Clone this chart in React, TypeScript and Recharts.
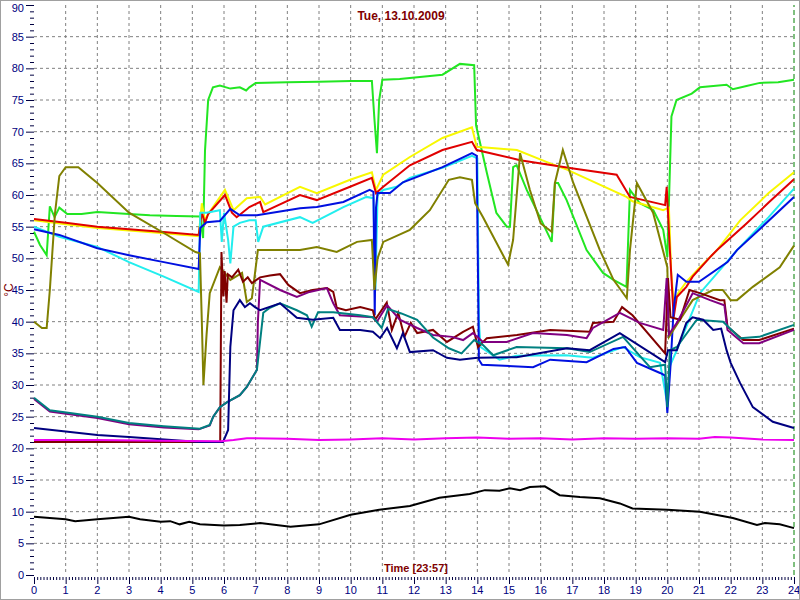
import React from 'react';
import { LineChart, Line, XAxis, YAxis, CartesianGrid, ReferenceLine } from 'recharts';

type Pt = [number, number];

// [hour, °C] pairs
const limeSeries: Pt[] = [
  [0, 54.2], [0.19, 52.1], [0.4, 50.5], [0.5, 58.2], [0.65, 56.5], [0.8, 58], [1.05, 57], [1.5, 57], [2, 57.3],
  [3, 57], [3.66, 56.8], [4.5, 56.7], [5.24, 56.6], [5.34, 53.2], [5.4, 67], [5.5, 75], [5.65, 77], [5.87, 77.3],
  [6.2, 76.8], [6.5, 77], [6.7, 76.5], [6.8, 77], [7.0, 77.7], [8, 77.8], [9, 77.9], [10, 78], [10.67, 78],
  [10.75, 72], [10.83, 66.6], [10.9, 75], [11, 78.2], [11.55, 78.3], [12.9, 79], [13.45, 80.7], [13.9, 80.5],
  [13.96, 71], [14.3, 63.5], [14.6, 57.2], [14.93, 55], [15.03, 55], [15.13, 64.4], [15.24, 64.7], [15.56, 60.8],
  [16.35, 52.6], [16.45, 61.9], [16.55, 61.9], [16.82, 59.2], [17.45, 51.3], [17.97, 47.7], [18.3, 46.6],
  [18.71, 45.5], [18.82, 60.8], [19.13, 58.7], [19.56, 57.6], [19.87, 54.5], [20.0, 50.2], [20.13, 72.4],
  [20.29, 75], [20.77, 76], [21.03, 77], [21.87, 77.4], [22.07, 76.7], [22.5, 77.2], [22.92, 77.7], [23.5, 77.8], [24, 78.2],
];

const yellowSeries: Pt[] = [
  [0, 56], [1, 55.4], [2, 54.8], [3, 54.4], [4, 54], [5.2, 53.5], [5.3, 58.7], [5.4, 56], [5.5, 57], [6.03, 60.8],
  [6.3, 57.6], [6.72, 59.5], [7.14, 59.7], [7.3, 58.5], [8.4, 61.3], [8.93, 60.3], [9.98, 62.4], [10.67, 63.6],
  [10.8, 60.8], [11.03, 63.2], [11.87, 66], [12.9, 69], [13.83, 70.7], [13.98, 67.6], [15.25, 67.1], [16.3, 65],
  [16.83, 64], [18.71, 59.7], [18.9, 59], [19.87, 57.6], [20.05, 58], [20.12, 48], [20.2, 43], [20.34, 44.5],
  [20.6, 46.3], [21.03, 48.6], [21.57, 51.3], [22.3, 56], [23.2, 60.3], [24, 63.6],
];

const redSeries: Pt[] = [
  [0, 56.2], [1, 55.6], [2, 55], [3, 54.6], [4, 54.2], [5.2, 53.7], [5.3, 57.2], [5.4, 55.6], [5.5, 57], [6.03, 60],
  [6.25, 57.2], [6.4, 56.5], [6.8, 58.1], [7.14, 58.9], [7.24, 57.3], [8.4, 60], [8.93, 59.2], [9.98, 61.3],
  [10.67, 62.7], [10.8, 60.3], [11.03, 61.3], [11.87, 64.7], [12.9, 67.1], [13.83, 68.4], [13.98, 67.1],
  [15.35, 65.5], [17.03, 64.2], [18.4, 63.2], [18.82, 59.7], [19.93, 58.4], [19.98, 61.3], [20.08, 51.3],
  [20.2, 40.7], [20.3, 43.9], [20.6, 45.5], [20.8, 47.1], [21.35, 50.2], [21.57, 51.3], [22.5, 55.5], [23.2, 58.8], [24, 62.5],
];

const cyanSeries: Pt[] = [
  [0, 55], [0.8, 53.4], [2, 51.8], [3, 49.4], [4.1, 47.1], [5.2, 44.7], [5.25, 57.2], [5.45, 57.2], [5.87, 57.6],
  [5.93, 52.6], [6.0, 57.2], [6.13, 52.9], [6.2, 49.2], [6.3, 55], [6.5, 55.6], [6.8, 56], [7.0, 56], [7.08, 52.6],
  [7.24, 55], [8.4, 56.5], [8.8, 55.6], [9.77, 58.1], [10.5, 59.7], [10.72, 59.5], [10.78, 45], [10.85, 60],
  [11.03, 60.8], [11.45, 61.3], [11.87, 62.7], [12.9, 64.3], [13.83, 66.2], [14.0, 65.8], [14.05, 40], [14.1, 36],
  [14.7, 34], [15.24, 34.6], [16.8, 34.7], [17.65, 34.3], [18.6, 36], [19.13, 34.4], [19.77, 33.5], [20.0, 27],
  [20.08, 33], [20.3, 35.5], [21.03, 44.5], [22.2, 51.3], [23.2, 56.5], [24, 61],
];

const blueSeries: Pt[] = [
  [0, 54.6], [0.8, 53.7], [2, 51.6], [3, 50.5], [4.1, 49.4], [5.2, 48.3], [5.25, 54.8], [5.45, 55.7], [5.87, 55.9],
  [6.2, 57.8], [6.5, 56.8], [7.04, 56.8], [8.4, 57.9], [8.93, 58.1], [9.77, 58.9], [10.6, 60.8], [10.72, 60.5],
  [10.76, 41], [10.8, 58], [10.85, 60.3], [11.24, 60.3], [11.65, 62], [12.9, 64.4], [13.83, 66.6], [13.98, 66.2],
  [14.05, 34], [14.15, 33.2], [15.76, 32.8], [16.3, 34], [17.45, 33.6], [18.3, 35.7], [18.67, 36], [19.04, 33.5],
  [19.77, 31.9], [19.93, 31.5], [20.0, 25.6], [20.1, 33], [20.2, 42], [20.33, 47.4], [20.6, 46.3], [21.0, 46.3],
  [21.9, 49.4], [22.2, 51.3], [23, 55], [24, 59.7],
];

const oliveSeries: Pt[] = [
  [0, 40], [0.25, 39], [0.4, 39], [0.5, 45], [0.66, 57], [0.8, 63], [1.0, 64.4], [1.4, 64.4], [2, 61.9], [3, 57.2],
  [4.1, 54], [5.1, 51], [5.24, 50.8], [5.3, 40], [5.35, 30], [5.45, 38], [5.55, 44.5], [5.87, 48.6], [6.2, 46.6],
  [6.57, 47.7], [6.72, 43.1], [6.88, 43.7], [7.07, 51.3], [7.77, 51.3], [8.4, 51.3], [8.93, 51.8], [9.56, 51],
  [10.2, 52.6], [10.67, 52.9], [10.75, 45], [10.85, 50], [11.03, 52.6], [11.87, 54.5], [12.5, 57.6], [13.1, 62.4],
  [13.45, 62.8], [13.83, 62.4], [13.93, 58.7], [14.18, 56.5], [14.97, 49], [15.13, 52.9], [15.35, 66.6],
  [15.66, 60.8], [16.0, 55.5], [16.35, 54.2], [16.45, 61.9], [16.7, 67.1], [17.03, 61.9], [17.87, 51.3],
  [18.3, 46.6], [18.72, 43.7], [18.82, 51.3], [19.04, 61.9], [19.55, 57.2], [20.0, 48.6], [20.05, 37.6],
  [20.4, 40.3], [20.8, 43.4], [21.44, 45], [21.75, 45], [22, 43.4], [22.2, 43.4], [22.7, 45.5], [23.55, 48.6], [24, 52],
];

const maroonSeries: Pt[] = [
  [0, 21], [5.88, 21], [5.92, 51], [5.98, 44], [6.02, 48], [6.08, 43], [6.12, 47.5], [6.25, 47], [6.45, 48.2],
  [6.6, 46.3], [6.75, 47], [6.88, 46.1], [7.14, 47], [7.45, 47.3], [7.77, 47.5], [8.03, 45.8], [8.4, 44.5],
  [8.8, 45], [9.25, 45.3], [9.45, 44.7], [9.56, 42.2], [9.85, 41.8], [10.3, 42.3], [10.7, 41.8], [10.77, 40.3],
  [11.14, 43], [11.3, 38.7], [11.5, 41.4], [11.7, 37.6], [11.9, 39.8], [12.1, 38.2], [12.6, 38.7], [13.04, 36.8],
  [13.55, 38.4], [13.86, 39.2], [14.02, 36], [14.3, 37.4], [15.25, 37.9], [16.3, 38.7], [17.55, 38.4],
  [17.65, 39.8], [18.3, 40], [18.57, 42.3], [18.9, 41], [19.93, 35], [20.02, 46.9], [20.1, 40.7], [20.4, 40.3],
  [20.7, 45], [21.03, 44.5], [21.66, 43.4], [21.8, 43.4], [21.9, 39.2], [22.4, 37.1], [22.9, 37.1], [24, 38.9],
];

const purpleSeries: Pt[] = [
  [0, 27.8], [0.5, 25.8], [2, 24.8], [3, 23.8], [4.1, 23.3], [5.2, 23], [5.55, 23.6], [5.66, 25], [5.87, 26.5],
  [6.1, 27.3], [6.5, 28.4], [6.72, 29.7], [7.04, 32.4], [7.07, 40], [7.14, 46.6], [7.77, 45], [8.3, 43.9],
  [8.7, 44.7], [9.25, 45.3], [9.45, 42.9], [9.66, 41], [10.7, 40.7], [10.83, 40], [11.15, 42.6], [11.55, 40.3],
  [12.1, 39], [12.6, 37.9], [13.2, 37.6], [13.55, 37.1], [13.86, 38.2], [14.18, 36.8], [14.93, 36.8],
  [15.76, 38.2], [16.83, 37.9], [17.45, 37.4], [17.65, 39], [18.5, 41.4], [19.13, 39.8], [19.87, 38.7],
  [19.98, 46.9], [20.05, 38], [20.3, 39.8], [20.8, 44.5], [21.35, 43.4], [21.8, 42.6], [21.9, 38.7], [22.4, 36.6],
  [22.9, 36.6], [24, 38.7],
];

const tealSeries: Pt[] = [
  [0, 28], [0.5, 26], [2, 25], [3, 24], [4.1, 23.5], [5.24, 23.1], [5.55, 23.7], [5.66, 25], [5.87, 26.5],
  [6.1, 27.3], [6.5, 28.4], [6.72, 29.7], [7.04, 32.4], [7.24, 41.4], [7.45, 42.2], [7.77, 42.9], [8.3, 41.8],
  [8.62, 41], [8.77, 39.2], [8.97, 41.5], [9.45, 41.5], [10.3, 41], [10.7, 40.7], [10.98, 39], [11.18, 42],
  [11.6, 41.3], [12.1, 40.3], [12.6, 37.5], [13.1, 35.8], [13.5, 35], [13.9, 37.1], [14.18, 36.3], [14.5, 34.7],
  [15.24, 36], [16.83, 35.8], [17.55, 35.2], [18.6, 37.6], [19.45, 32.8], [19.93, 33.2], [20.0, 26.5],
  [20.08, 35.5], [20.3, 36], [20.93, 40.3], [21.76, 40], [22.3, 37.4], [22.9, 37.6], [24, 39.5],
];

const navySeries: Pt[] = [
  [0, 23.2], [2, 22.1], [3, 21.8], [5.24, 21], [5.97, 21], [6.13, 22.9], [6.2, 36], [6.3, 41.8], [6.5, 43.4],
  [6.66, 42.3], [6.82, 42.9], [6.98, 42.3], [7.14, 41.8], [7.77, 42.9], [8.3, 40.6], [8.8, 40.3], [9.45, 40.6],
  [9.66, 38.7], [10.3, 38.7], [10.7, 38.4], [10.93, 37.4], [11.15, 39], [11.46, 35.8], [11.65, 38.2],
  [11.87, 35.2], [12.6, 35.5], [13.04, 34.3], [13.45, 34], [14, 34.3], [15.24, 34.4], [16.83, 35.8],
  [17.55, 35.5], [18.5, 38.2], [19.93, 33.6], [20.02, 35.5], [20.3, 35.5], [20.6, 39.8], [20.8, 40.7],
  [21.13, 40.3], [21.45, 38.7], [21.7, 38.9], [21.87, 35.5], [22, 33.5], [22.3, 30.3], [22.7, 26.5],
  [23.33, 24.2], [24, 23.2],
];

const magentaSeries: Pt[] = [
  [0, 21.3], [2, 21.3], [4, 21.2], [5.9, 21.1], [6.3, 21.3], [6.72, 21.6], [8, 21.5], [9, 21.3], [10, 21.4],
  [11, 21.6], [12, 21.4], [13, 21.6], [14, 21.7], [15, 21.5], [16, 21.6], [17, 21.4], [18, 21.6], [19, 21.5],
  [20, 21.6], [21, 21.5], [21.5, 21.8], [22, 21.7], [23, 21.4], [24, 21.3],
];

const outsideSeries: Pt[] = [
  [0, 9.2], [0.5, 9.0], [1, 8.8], [1.3, 8.5], [2, 8.8], [3, 9.2], [3.35, 8.8], [4, 8.4], [4.3, 8.5], [4.6, 8.0],
  [4.9, 8.4], [5.24, 8.0], [6, 7.8], [6.5, 7.9], [7.14, 8.2], [8.1, 7.6], [9, 8], [10, 9.5], [10.9, 10.3],
  [11.87, 10.9], [12.8, 12.2], [13.76, 12.8], [14.24, 13.4], [14.7, 13.3], [15.03, 13.7], [15.35, 13.4],
  [15.66, 13.9], [16.13, 14], [16.6, 12.6], [17.24, 12.3], [17.87, 12.1], [18.5, 11.3], [18.9, 10.5], [20, 10.3],
  [21.03, 10], [22.07, 9.0], [22.83, 7.9], [23.08, 8.2], [23.55, 8], [24, 7.4],
];

const SERIES = [
  { name: 'lime', color: '#22e622', points: limeSeries },
  { name: 'yellow', color: '#f8f800', points: yellowSeries },
  { name: 'red', color: '#e00000', points: redSeries },
  { name: 'cyan', color: '#22eeee', points: cyanSeries },
  { name: 'blue', color: '#0010e0', points: blueSeries },
  { name: 'olive', color: '#808000', points: oliveSeries },
  { name: 'maroon', color: '#800000', points: maroonSeries },
  { name: 'purple', color: '#800080', points: purpleSeries },
  { name: 'teal', color: '#008080', points: tealSeries },
  { name: 'navy', color: '#000080', points: navySeries },
  { name: 'magenta', color: '#ee00ee', points: magentaSeries },
  { name: 'outside', color: '#000000', points: outsideSeries },
];

const hourTicks = Array.from({ length: 241 }, (_, i) => i / 10);
const tempTicks = Array.from({ length: 91 }, (_, i) => i);
const gridHours = Array.from({ length: 23 }, (_, i) => i + 1);
const gridTemps = Array.from({ length: 17 }, (_, i) => (i + 1) * 5);

const FONT = '"Liberation Sans", Arial, sans-serif';

const renderYTick = (props: any) => {
  const { x, y, payload } = props;
  const v = payload.value;
  const major = v % 5 === 0;
  // top label would be clipped by the frame, nudge it down a bit
  const labelY = v === 90 ? y + 7 : y + 4;
  return (
    <g>
      <line x1={x - (major ? 8 : 4)} x2={x} y1={y + 0.5} y2={y + 0.5} stroke="#000040" />
      {major && (
        <text x={x - 10} y={labelY} textAnchor="end" fontSize={11} fill="#000080" fontFamily={FONT}>
          {v}
        </text>
      )}
    </g>
  );
};

const renderXTick = (props: any) => {
  const { x, y, payload } = props;
  const i = Math.round(payload.value * 10);
  const major = i % 10 === 0;
  return (
    <g>
      <line x1={x + 0.5} x2={x + 0.5} y1={y + 2} y2={y + (major ? 9 : 5)} stroke="#000040" />
      {major && (
        <text x={x} y={y + 19} textAnchor="middle" fontSize={11} fill="#000080" fontFamily={FONT}>
          {i / 10}
        </text>
      )}
    </g>
  );
};

export default function App() {
  return (
    <div
      style={{
        position: 'absolute',
        left: 0,
        top: 0,
        width: 800,
        height: 600,
        boxSizing: 'border-box',
        border: '1px solid #a0a0a0',
        background: '#fff',
      }}
    >
      <LineChart width={798} height={598} margin={{ top: 4, right: 5, bottom: 0, left: 0 }}>
        <CartesianGrid
          stroke="#808080"
          strokeDasharray="3 3"
          horizontalValues={gridTemps}
          verticalValues={gridHours}
        />
        <XAxis
          dataKey="t"
          type="number"
          domain={[0, 24]}
          ticks={hourTicks}
          interval={0}
          tickSize={0}
          tickMargin={0}
          axisLine={false}
          tickLine={false}
          tick={renderXTick}
          height={24}
          allowDuplicatedCategory={false}
        />
        <YAxis
          type="number"
          domain={[0, 90]}
          ticks={tempTicks}
          interval={0}
          tickSize={0}
          tickMargin={0}
          axisLine={false}
          tickLine={false}
          tick={renderYTick}
          width={33}
        />
        <ReferenceLine x={24} stroke="#008000" strokeDasharray="5 3" />
        {SERIES.map((s) => (
          <Line
            key={s.name}
            data={s.points.map(([t, v]) => ({ t, v }))}
            dataKey="v"
            type="linear"
            stroke={s.color}
            strokeWidth={2}
            dot={false}
            activeDot={false}
            isAnimationActive={false}
          />
        ))}
      </LineChart>
      <div
        style={{
          position: 'absolute',
          left: 300,
          width: 200,
          top: 8,
          textAlign: 'center',
          fontFamily: FONT,
          fontWeight: 'bold',
          fontSize: 12,
          color: '#800000',
        }}
      >
        Tue, 13.10.2009
      </div>
      <div
        style={{
          position: 'absolute',
          left: 315,
          width: 200,
          top: 561,
          textAlign: 'center',
          fontFamily: FONT,
          fontWeight: 'bold',
          fontSize: 11,
          color: '#800000',
        }}
      >
        Time [23:57]
      </div>
      <div
        style={{
          position: 'absolute',
          left: -1,
          top: 281,
          width: 20,
          height: 16,
          textAlign: 'center',
          fontFamily: FONT,
          fontSize: 12,
          color: '#800000',
          transform: 'rotate(-90deg)',
        }}
      >
        °C
      </div>
    </div>
  );
}
